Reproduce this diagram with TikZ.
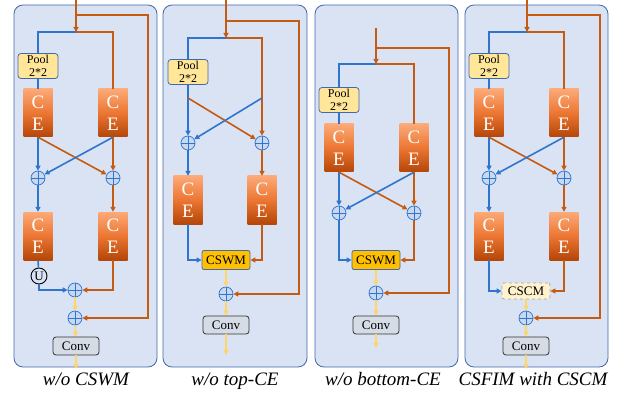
\documentclass[tikz,border=0pt]{standalone}
\usepackage{fontspec}
\setmainfont{Liberation Serif}
\usetikzlibrary{arrows.meta}

\definecolor{panelfill}{RGB}{218,227,243}
\definecolor{paneldraw}{RGB}{68,104,170}
\definecolor{lineblue}{RGB}{47,117,205}
\definecolor{lineorange}{RGB}{197,90,17}
\definecolor{lineyellow}{RGB}{255,214,102}
\definecolor{poolfill}{RGB}{255,230,153}
\definecolor{cetop}{RGB}{252,170,120}
\definecolor{cemid}{RGB}{236,118,50}
\definecolor{cebot}{RGB}{180,70,8}
\definecolor{cswmfill}{RGB}{255,192,0}
\definecolor{cscmfill}{RGB}{255,242,204}
\definecolor{convfill}{RGB}{214,220,230}
\definecolor{plusfill}{RGB}{200,216,240}

\tikzset{
  panel/.style={draw=paneldraw, fill=panelfill, rounded corners=9pt, line width=0.8pt},
  bl/.style={draw=lineblue, line width=1.6pt, -{Triangle[length=5pt,width=5pt]}},
  ol/.style={draw=lineorange, line width=1.6pt, -{Triangle[length=5pt,width=5pt]}},
  yl/.style={draw=lineyellow, line width=1.6pt, -{Triangle[length=5pt,width=5pt]}},
  cebox/.style={rectangle, minimum width=29pt, minimum height=48pt, inner sep=0pt,
    top color=cetop, bottom color=cebot, middle color=cemid, text=white,
    align=center, font=\fontsize{19}{22}\selectfont},
  pool/.style={rectangle, rounded corners=3pt, draw=paneldraw, fill=poolfill, line width=0.8pt,
    minimum width=40pt, minimum height=25pt, inner sep=0pt, align=center,
    font=\fontsize{12}{12.5}\selectfont},
  conv/.style={rectangle, rounded corners=3pt, draw=black!80, fill=convfill, line width=0.8pt,
    minimum width=46pt, minimum height=18pt, inner sep=0pt, font=\fontsize{13}{14}\selectfont},
  cswm/.style={rectangle, rounded corners=2pt, draw=paneldraw, fill=cswmfill, line width=0.8pt,
    minimum width=48pt, minimum height=19pt, inner sep=0pt, font=\fontsize{13}{14}\selectfont},
  cscm/.style={rectangle, rounded corners=2pt, draw=black!35, dashed, fill=cscmfill, line width=0.8pt,
    minimum width=48pt, minimum height=16pt, inner sep=0pt, font=\fontsize{13}{14}\selectfont},
  oplus/.style={circle, draw=lineblue, fill=plusfill, minimum size=14pt, inner sep=0pt, line width=0.7pt,
    path picture={\draw[lineblue, line width=0.7pt]
      (path picture bounding box.north) -- (path picture bounding box.south)
      (path picture bounding box.west) -- (path picture bounding box.east);}},
  unode/.style={circle, draw=black, fill=panelfill, line width=0.9pt, minimum size=16pt, inner sep=0pt,
    font=\fontsize{13}{13}\selectfont},
  caption/.style={anchor=base, font=\fontsize{19}{20}\selectfont\itshape}
}

\begin{document}
\begin{tikzpicture}[x=1pt,y=-1pt]
\useasboundingbox (0,0) rectangle (624,393);
% panels
\draw[panel] (14,5) rectangle (157,367);
\draw[panel] (163,5) rectangle (307,367);
\draw[panel] (315,5) rectangle (458,367);
\draw[panel] (465,5) rectangle (608,367);

% ---- w/o CSWM
\coordinate (p1in) at (76,0);
\coordinate (p1side) at (76,15);
\coordinate (p1rail) at (148,15);
\coordinate (p1split) at (76,32);
\node[pool] (p1pool) at (38,66) {Pool\\2*2};
\node[cebox] (p1ce1) at (38,113) {C\\E};
\node[cebox] (p1ce2) at (113,113) {C\\E};
\node[oplus] (p1a1) at (38,178) {};
\node[oplus] (p1a2) at (113,178) {};
\node[cebox] (p1ce3) at (38,236) {C\\E};
\node[cebox] (p1ce4) at (113,236) {C\\E};
\node[unode] (p1u) at (39,276) {U};
\node[oplus] (p1s1) at (75,290) {};
\node[oplus] (p1s2) at (75,318) {};
\node[conv] (p1conv) at (76,346) {Conv};
\coordinate (p1out) at (76,369);
\draw[ol] (p1in) -- (p1split);
\draw[ol] (p1side) -- (p1rail) |- (p1s2);
\draw[bl,-] (p1split) -| (p1pool);
\draw[bl,-] (p1pool) -- (p1ce1);
\draw[ol,-] (p1split) -| (p1ce2);
\draw[bl] (p1ce1.south) -- (p1a1);
\draw[ol] (p1ce1.south) -- (p1a2);
\draw[ol] (p1ce2.south) -- (p1a2);
\draw[bl] (p1ce2.south) -- (p1a1);
\draw[bl] (p1a1) -- (p1ce3);
\draw[ol] (p1a2) -- (p1ce4);
\draw[bl,-] (p1ce3.south) -- (p1u);
\draw[bl] (p1u) |- (p1s1);
\draw[ol] (p1ce4.south) |- (p1s1);
\draw[yl] (p1s1) -- (p1s2);
\draw[yl] (p1s2) -- (p1conv);
\draw[yl] (p1conv) -- (p1out);

% ---- w/o top-CE
\coordinate (p2in) at (226,0);
\coordinate (p2side) at (226,21);
\coordinate (p2rail) at (299,21);
\coordinate (p2split) at (226,38);
\node[pool] (p2pool) at (188,72) {Pool\\2*2};
\coordinate (p2x1) at (188,98);
\coordinate (p2x2) at (262,98);
\node[oplus] (p2a1) at (188,143) {};
\node[oplus] (p2a2) at (262,143) {};
\node[cebox] (p2ce1) at (188,200) {C\\E};
\node[cebox] (p2ce2) at (262,200) {C\\E};
\node[cswm] (p2cswm) at (226,260) {CSWM};
\node[oplus] (p2s) at (226,294) {};
\node[conv] (p2conv) at (226,325) {Conv};
\coordinate (p2out) at (226,355);
\draw[ol] (p2in) -- (p2split);
\draw[ol] (p2side) -- (p2rail) |- (p2s);
\draw[bl,-] (p2split) -| (p2pool);
\draw[bl] (p2pool) -- (p2a1);
\draw[ol] (p2split) -| (p2a2);
\draw[ol] (p2x1) -- (p2a2);
\draw[bl] (p2x2) -- (p2a1);
\draw[bl] (p2a1) -- (p2ce1);
\draw[ol] (p2a2) -- (p2ce2);
\draw[bl] (p2ce1.south) |- (p2cswm);
\draw[ol] (p2ce2.south) |- (p2cswm);
\draw[yl] (p2cswm) -- (p2s);
\draw[yl] (p2s) -- (p2conv);
\draw[yl] (p2conv) -- (p2out);

% ---- w/o bottom-CE
\coordinate (p3in) at (376,28);
\coordinate (p3side) at (376,48);
\coordinate (p3rail) at (449,48);
\coordinate (p3split) at (376,64);
\node[pool] (p3pool) at (339,100) {Pool\\2*2};
\node[cebox] (p3ce1) at (339,148) {C\\E};
\node[cebox] (p3ce2) at (414,148) {C\\E};
\node[oplus] (p3a1) at (339,213) {};
\node[oplus] (p3a2) at (414,213) {};
\node[cswm] (p3cswm) at (376,260) {CSWM};
\node[oplus] (p3s) at (376,293) {};
\node[conv] (p3conv) at (376,325) {Conv};
\coordinate (p3out) at (376,348);
\draw[ol] (p3in) -- (p3split);
\draw[ol] (p3side) -- (p3rail) |- (p3s);
\draw[bl,-] (p3split) -| (p3pool);
\draw[bl,-] (p3pool) -- (p3ce1);
\draw[ol,-] (p3split) -| (p3ce2);
\draw[bl] (p3ce1.south) -- (p3a1);
\draw[ol] (p3ce1.south) -- (p3a2);
\draw[ol] (p3ce2.south) -- (p3a2);
\draw[bl] (p3ce2.south) -- (p3a1);
\draw[bl] (p3a1) |- (p3cswm);
\draw[ol] (p3a2) |- (p3cswm);
\draw[yl] (p3cswm) -- (p3s);
\draw[yl] (p3s) -- (p3conv);
\draw[yl] (p3conv) -- (p3out);

% ---- CSFIM with CSCM
\coordinate (p4in) at (527,0);
\coordinate (p4side) at (527,15);
\coordinate (p4rail) at (600,15);
\coordinate (p4split) at (527,32);
\node[pool] (p4pool) at (489,66) {Pool\\2*2};
\node[cebox] (p4ce1) at (489,113) {C\\E};
\node[cebox] (p4ce2) at (564,113) {C\\E};
\node[oplus] (p4a1) at (489,178) {};
\node[oplus] (p4a2) at (564,178) {};
\node[cebox] (p4ce3) at (489,236) {C\\E};
\node[cebox] (p4ce4) at (564,236) {C\\E};
\node[cscm] (p4cscm) at (526,291) {CSCM};
\node[oplus] (p4s) at (526,318) {};
\node[conv] (p4conv) at (526,346) {Conv};
\coordinate (p4out) at (526,369);
\draw[ol] (p4in) -- (p4split);
\draw[ol] (p4side) -- (p4rail) |- (p4s);
\draw[bl,-] (p4split) -| (p4pool);
\draw[bl,-] (p4pool) -- (p4ce1);
\draw[ol,-] (p4split) -| (p4ce2);
\draw[bl] (p4ce1.south) -- (p4a1);
\draw[ol] (p4ce1.south) -- (p4a2);
\draw[ol] (p4ce2.south) -- (p4a2);
\draw[bl] (p4ce2.south) -- (p4a1);
\draw[bl] (p4a1) -- (p4ce3);
\draw[ol] (p4a2) -- (p4ce4);
\draw[bl] (p4ce3.south) |- (p4cscm);
\draw[ol] (p4ce4.south) |- (p4cscm);
\draw[yl] (p4cscm) -- (p4s);
\draw[yl] (p4s) -- (p4conv);
\draw[yl] (p4conv) -- (p4out);

% captions
\node[caption] (cap1) at (86,385) {w/o CSWM};
\node[caption] (cap2) at (235,385) {w/o top-CE};
\node[caption] (cap3) at (383,385) {w/o bottom-CE};
\node[caption] (cap4) at (533,385) {CSFIM with CSCM};
\end{tikzpicture}
\end{document}
